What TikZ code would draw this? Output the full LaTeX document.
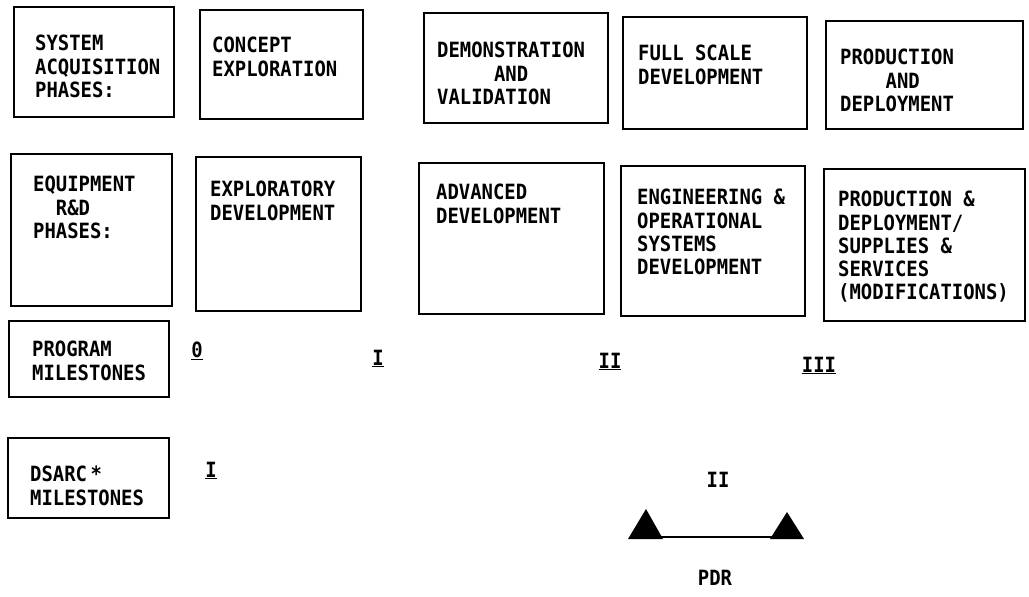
\documentclass[tikz,border=0pt]{standalone}
\usepackage{fontspec}
\newfontfamily\diafont[FakeStretch=0.9]{DejaVu Sans Mono}
\begin{document}
\begin{tikzpicture}[x=1pt,y=-1pt,
  box/.style={draw=black, line width=2.4pt, anchor=north west, inner sep=0pt},
  txt/.style={anchor=north west, inner sep=0pt, align=left,
    font=\diafont\bfseries\fontsize{21}{23.3}\selectfont},
  num/.style={anchor=base, inner sep=0pt, font=\diafont\bfseries\fontsize{21}{23}\selectfont},
  tri/.style={fill=black},
  link/.style={line width=2.6pt}]
\useasboundingbox (0,0) rectangle (1029,597);
% row 1
\node[box, minimum width=160, minimum height=110] (sa) at (13,6) {};
\node[box, minimum width=163, minimum height=109] (ce) at (199,9) {};
\node[box, minimum width=184, minimum height=110] (dv) at (423,12) {};
\node[box, minimum width=184, minimum height=112] (fs) at (622,16) {};
\node[box, minimum width=197, minimum height=108] (pd) at (825,20) {};
\node[txt] (saT) at (35,35) {SYSTEM\\ACQUISITION\\PHASES:};
\node[txt] (ceT) at (212,37) {CONCEPT\\EXPLORATION};
\node[txt] (dvT) at (437,42) {DEMONSTRATION\\\phantom{XXXXX}AND\\VALIDATION};
\node[txt] (fsT) at (638,45) {FULL SCALE\\DEVELOPMENT};
\node[txt] (pdT) at (840,49) {PRODUCTION\\\phantom{XXXX}AND\\DEPLOYMENT};
% row 2
\node[box, minimum width=161, minimum height=152] (er) at (10,153) {};
\node[box, minimum width=165, minimum height=154] (ed) at (195,156) {};
\node[box, minimum width=185, minimum height=151] (ad) at (418,162) {};
\node[box, minimum width=184, minimum height=150] (eo) at (620,165) {};
\node[box, minimum width=201, minimum height=152] (ps) at (823,168) {};
\node[txt] (erT) at (33,176) {EQUIPMENT\\\phantom{XX}R\&D\\PHASES:};
\node[txt] (edT) at (210,181) {EXPLORATORY\\DEVELOPMENT};
\node[txt] (adT) at (436,184) {ADVANCED\\DEVELOPMENT};
\node[txt] (eoT) at (637,189) {ENGINEERING \&\\OPERATIONAL\\SYSTEMS\\DEVELOPMENT};
\node[txt] (psT) at (838,191) {PRODUCTION \&\\DEPLOYMENT/\\SUPPLIES \&\\SERVICES\\(MODIFICATIONS)};
% row 3
\node[box, minimum width=160, minimum height=76] (pm) at (8,320) {};
\node[txt] (pmT) at (32,341) {PROGRAM\\MILESTONES};
\node[num] (pm0) at (197,357) {\underline{0}};
\node[num] (pm1) at (378,365) {\underline{I}};
\node[num] (pm2) at (610,368) {\underline{II}};
\node[num] (pm3) at (819,372) {\underline{III}};
% row 4
\node[box, minimum width=161, minimum height=80] (dm) at (7,437) {};
\node[txt] (dmT) at (30,466) {DSARC\,*\\MILESTONES};
\node[num] (dm1) at (211,477) {\underline{I}};
\node[num] (dm2) at (718,487) {II};
\node[num] (pdr) at (715,585) {PDR};
% PDR triangles
\fill[tri] (628,539) -- (646,509) -- (663,539) -- cycle;
\fill[tri] (770,539) -- (787,512) -- (804,539) -- cycle;
\coordinate (tl) at (660,537);
\coordinate (tr) at (773,537);
\draw[link] (tl) -- (tr);
\end{tikzpicture}
\end{document}
